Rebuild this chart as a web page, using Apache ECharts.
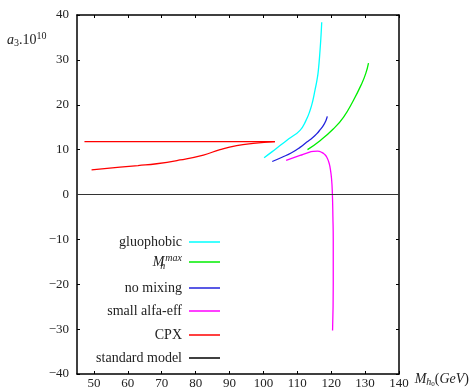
<!DOCTYPE html>
<html>
<head>
<meta charset="utf-8">
<script src="https://cdn.jsdelivr.net/npm/echarts@6/dist/echarts.min.js"></script>
<style>html,body{margin:0;padding:0;background:#fff}#c{width:475px;height:390px}</style>
</head>
<body>
<div id="c"></div>
<script>
// ---- data ----
const xTicks = [50, 60, 70, 80, 90, 100, 110, 120, 130, 140];
const yTicks = [-40, -30, -20, -10, 0, 10, 20, 30, 40];
const legendNames = ['gluophobic', 'Mhmax', 'no mixing', 'small alfa-eff', 'CPX', 'standard model'];
const gluophobic = [[100.2,8.2],[102.5,9.5],[104.9,10.9],[107.5,12.4],[110.8,14.3],[112.5,16.4],[113.75,18.7],[114.6,21.0],[115.2,23.2],[115.8,25.5],[116.2,27.6],[116.7,32.1],[117.0,35.5],[117.2,38.4]];
const mhmax = [[113.0,10.0],[116.7,12.0],[120.6,14.6],[123.6,17.2],[126.5,20.9],[129.0,24.7],[130.2,27.0],[131.0,29.3]];
const noMixing = [[102.6,7.35],[105.5,8.3],[108.3,9.3],[110.8,10.5],[112.8,11.7],[114.4,12.6],[115.7,13.5],[116.8,14.5],[117.7,15.4],[118.4,16.4],[118.85,17.4]];
const smallAlfa = [[106.7,7.6],[110.8,8.7],[113,9.3],[114.7,9.6],[116,9.65],[117.2,9.4],[118.1,8.9],[118.7,8.3],[119.3,7.2],[119.65,6.1],[120.1,3.5],[120.35,0],[120.5,-5],[120.6,-10],[120.6,-20],[120.4,-30.3]];
const cpxLower = [[49.3,5.5],[57.7,6.1],[63,6.45],[68.5,6.85],[75.4,7.7],[82.3,8.8],[87.2,10.0],[92.1,10.9],[97.0,11.4],[103.4,11.8]];
const cpxUpper = [[103.4,11.8],[47.2,11.8]];
const standardModel = [[45,0],[140,0]];

const SERIF = '"Liberation Serif", "DejaVu Serif", serif';
const colors = {gluophobic:'#00ffff', Mhmax:'#00ee00', 'no mixing':'#2222dd', 'small alfa-eff':'#ff00ff', CPX:'#ff0000', 'standard model':'#000000'};
const fmt = v => (v < 0 ? '\u2212' + Math.abs(v) : String(v));

const chart = echarts.init(document.getElementById('c'));
const rowTops = [235, 256, 281, 304, 328, 351];
const legends = legendNames.map((n, i) => ({
  data: [n], orient: 'vertical', right: 255, top: rowTops[i] + (n === 'Mhmax' ? -3 : 0),
  align: 'right', icon: 'rect', itemWidth: 31, itemHeight: 1.5, padding: 0,
  selectedMode: false,
  formatter: name => name === 'Mhmax' ? '{m|M}{h|h}{x|max}' : name,
  textStyle: {
    fontFamily: SERIF, fontSize: 14, color: '#222', padding: [0, 2, 0, 0],
    rich: {
      m: {fontFamily: SERIF, fontStyle: 'italic', fontSize: 14, color: '#222'},
      h: {fontFamily: SERIF, fontStyle: 'italic', fontSize: 10, color: '#222', width: 1, padding: [8, 0, 0, 0]},
      x: {fontFamily: SERIF, fontStyle: 'italic', fontSize: 10, color: '#222', padding: [0, 0, 8, 0]}
    }
  }
}));

const lineSeries = (name, data, extra) => Object.assign({
  type: 'line', name, data, showSymbol: false, symbol: 'none', smooth: 0.5,
  lineStyle: {color: colors[name], width: 1.3}, itemStyle: {color: colors[name]},
  xAxisIndex: 0, yAxisIndex: 0, animation: false, z: 3
}, extra || {});

chart.setOption({
  animation: false,
  backgroundColor: '#fff',
  grid: {left: 77, right: 76, top: 15, bottom: 16},
  legend: legends,
  xAxis: [
    {type: 'value', min: 45, max: 140, position: 'bottom',
     axisLine: {onZero: false, lineStyle: {color: '#000', width: 1.5}},
     axisTick: {inside: true, length: 3, customValues: xTicks, lineStyle: {color: '#000'}},
     axisLabel: {customValues: xTicks, formatter: fmt, fontFamily: SERIF, fontSize: 13, color: '#222', margin: 3},
     splitLine: {show: false},
     name: '{i|M}{s|h}{ss|0}{r|(}{i|GeV}{r|)}', nameLocation: 'end', nameGap: 15,
     nameTextStyle: {padding: [10, 0, 0, 0], rich: {
       i: {fontFamily: SERIF, fontStyle: 'italic', fontSize: 14, color: '#222'},
       r: {fontFamily: SERIF, fontSize: 14, color: '#222'},
       s: {fontFamily: SERIF, fontStyle: 'italic', fontSize: 10, color: '#222', padding: [6, 0, 0, 0]},
       ss: {fontFamily: SERIF, fontSize: 7, color: '#222', padding: [10, 0, 0, 0]}
     }}},
    {type: 'value', min: 45, max: 140, position: 'top',
     axisLine: {onZero: false, lineStyle: {color: '#000', width: 1.5}},
     axisTick: {inside: true, length: 3, customValues: xTicks, lineStyle: {color: '#000'}},
     axisLabel: {show: false}, splitLine: {show: false}}
  ],
  yAxis: [
    {type: 'value', min: -40, max: 40, interval: 10, position: 'left',
     axisLine: {show: true, onZero: false, lineStyle: {color: '#000', width: 1.5}},
     axisTick: {show: true, inside: true, length: 3, lineStyle: {color: '#000'}},
     axisLabel: {formatter: fmt, fontFamily: SERIF, fontSize: 13, color: '#222', margin: 8},
     splitLine: {show: false}},
    {type: 'value', min: -40, max: 40, interval: 10, position: 'right',
     axisLine: {show: true, onZero: false, lineStyle: {color: '#000', width: 1.5}},
     axisTick: {show: true, inside: true, length: 3, lineStyle: {color: '#000'}},
     axisLabel: {show: false}, splitLine: {show: false}}
  ],
  graphic: [{
    type: 'text', left: 7, top: 31,
    style: {
      text: '{i|a}{s|3}{r|.10}{p|10}',
      rich: {
        i: {fontFamily: SERIF, fontStyle: 'italic', fontSize: 14, fill: '#222'},
        r: {fontFamily: SERIF, fontSize: 14, fill: '#222'},
        s: {fontFamily: SERIF, fontSize: 10, fill: '#222', padding: [6, 0, 0, 0]},
        p: {fontFamily: SERIF, fontSize: 10, fill: '#222', padding: [0, 0, 8, 0]}
      }
    }
  }],
  series: [
    lineSeries('gluophobic', gluophobic),
    lineSeries('Mhmax', mhmax),
    lineSeries('no mixing', noMixing),
    lineSeries('small alfa-eff', smallAlfa),
    lineSeries('CPX', cpxLower),
    lineSeries('CPX', cpxUpper, {smooth: false}),
    lineSeries('standard model', standardModel, {smooth: false, lineStyle: {color: '#333', width: 1}})
  ]
});
</script>
</body>
</html>
